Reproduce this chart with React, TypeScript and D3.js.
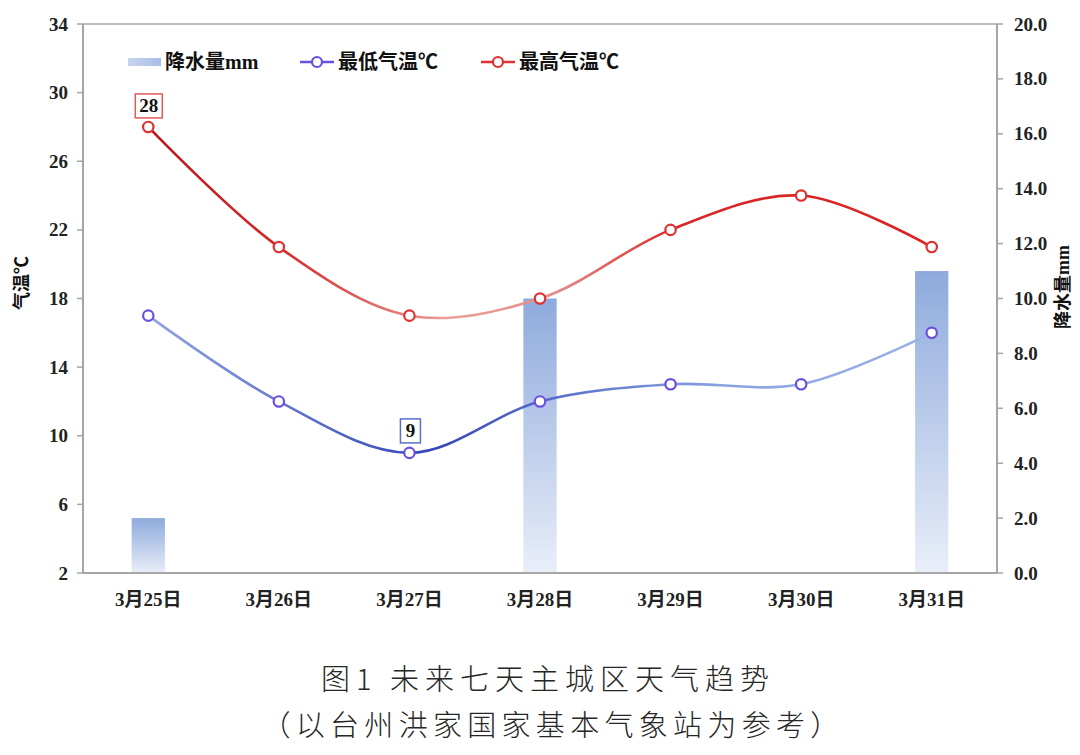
import React from "react";
import * as d3 from "d3";

const categories = ["3月25日", "3月26日", "3月27日", "3月28日", "3月29日", "3月30日", "3月31日"];
const rain = [2.0, 0, 0, 10.0, 0, 0, 11.0];
const minTemp = [17, 12, 9, 12, 13, 13, 16];
const maxTemp = [28, 21, 17, 18, 22, 24, 21];
const leftTicks = [2, 6, 10, 14, 18, 22, 26, 30, 34];
const rightTicks = [0, 2, 4, 6, 8, 10, 12, 14, 16, 18, 20];

const W = 1080, H = 755;
const L = 83, R = 997, T = 24, B = 573;
const serifBold = "'Liberation Serif', 'Noto Sans CJK SC', serif";
const axisGray = "#a6a6a6";

export default function App() {
  const x = d3.scaleBand<string>().domain(categories).range([L, R]).padding(0);
  const yL = d3.scaleLinear().domain([2, 34]).range([B, T]);
  const yR = d3.scaleLinear().domain([0, 20]).range([B, T]);
  const cx = (c: string) => (x(c) as number) + x.bandwidth() / 2;
  const bw = x.bandwidth() * 0.255;

  const line = d3
    .line<number>()
    .x((_, i) => cx(categories[i]))
    .y((d) => yL(d))
    .curve(d3.curveCatmullRom.alpha(0.5));

  const minIdx = minTemp.indexOf(d3.min(minTemp) as number);
  const maxIdx = maxTemp.indexOf(d3.max(maxTemp) as number);

  return (
    <svg width={W} height={H} style={{ position: "absolute", left: 0, top: 0, background: "#fff" }}>
      <defs>
        <linearGradient id="barGrad" x1="0" y1="0" x2="0" y2="1">
          <stop offset="0%" stopColor="#8eaadc" />
          <stop offset="100%" stopColor="#e9eef9" />
        </linearGradient>
        <linearGradient id="maxGrad" gradientUnits="userSpaceOnUse" x1={L} y1="0" x2={R} y2="0">
          <stop offset="0%" stopColor="#b00c0c" />
          <stop offset="22%" stopColor="#d42a2a" />
          <stop offset="40%" stopColor="#e9a09a" />
          <stop offset="52%" stopColor="#e58a86" />
          <stop offset="65%" stopColor="#d82626" />
          <stop offset="100%" stopColor="#dc2222" />
        </linearGradient>
        <linearGradient id="minGrad" gradientUnits="userSpaceOnUse" x1={L} y1="0" x2={R} y2="0">
          <stop offset="0%" stopColor="#a7bce6" />
          <stop offset="22%" stopColor="#6478d2" />
          <stop offset="38%" stopColor="#3346b8" />
          <stop offset="52%" stopColor="#5a70cc" />
          <stop offset="70%" stopColor="#8aa2df" />
          <stop offset="100%" stopColor="#a3b8e6" />
        </linearGradient>
        <linearGradient id="legBar" x1="0" y1="0" x2="1" y2="0">
          <stop offset="0%" stopColor="#c9d5ee" />
          <stop offset="100%" stopColor="#a9bde6" />
        </linearGradient>
      </defs>

      {/* bars */}
      {rain.map((v, i) =>
        v > 0 ? (
          <rect
            key={"b" + i}
            x={cx(categories[i]) - bw / 2}
            y={yR(v)}
            width={bw}
            height={B - yR(v)}
            fill="url(#barGrad)"
          />
        ) : null
      )}

      {/* frame */}
      <line x1={L} y1={T} x2={R} y2={T} stroke={axisGray} strokeWidth={1.5} />
      <line x1={L} y1={B} x2={R} y2={B} stroke={axisGray} strokeWidth={2} />
      <line x1={L} y1={T} x2={L} y2={B} stroke={axisGray} strokeWidth={2} />
      <line x1={R} y1={T} x2={R} y2={B} stroke={axisGray} strokeWidth={2} />

      {/* left ticks */}
      {leftTicks.map((t) => (
        <g key={"l" + t}>
          <line x1={L - 6} x2={L} y1={yL(t)} y2={yL(t)} stroke={axisGray} strokeWidth={1.5} />
          <text
            x={68}
            y={yL(t)}
            textAnchor="end"
            dominantBaseline="central"
            fontFamily={serifBold}
            fontWeight="bold"
            fontSize={19}
            fill="#222"
          >
            {t}
          </text>
        </g>
      ))}

      {/* right ticks */}
      {rightTicks.map((t) => (
        <g key={"r" + t}>
          <line x1={R} x2={R + 6} y1={yR(t)} y2={yR(t)} stroke={axisGray} strokeWidth={1.5} />
          <text
            x={1014}
            y={yR(t)}
            textAnchor="start"
            dominantBaseline="central"
            fontFamily={serifBold}
            fontWeight="bold"
            fontSize={19}
            fill="#222"
          >
            {t.toFixed(1)}
          </text>
        </g>
      ))}

      {/* x labels */}
      {categories.map((c) => (
        <text
          key={"x" + c}
          x={cx(c)}
          y={599}
          textAnchor="middle"
          dominantBaseline="central"
          fontFamily={serifBold}
          fontWeight="bold"
          fontSize={19}
          fill="#222"
        >
          {c}
        </text>
      ))}

      {/* axis titles */}
      <text
        transform={`translate(22,283) rotate(-90)`}
        textAnchor="middle"
        dominantBaseline="central"
        fontFamily={serifBold}
        fontWeight="bold"
        fontSize={18}
        fill="#111"
      >
        气温℃
      </text>
      <text
        transform={`translate(1063,287) rotate(-90)`}
        textAnchor="middle"
        dominantBaseline="central"
        fontFamily={serifBold}
        fontWeight="bold"
        fontSize={18}
        fill="#111"
      >
        降水量mm
      </text>

      {/* lines */}
      <path d={line(maxTemp) || ""} fill="none" stroke="url(#maxGrad)" strokeWidth={2.6} />
      <path d={line(minTemp) || ""} fill="none" stroke="url(#minGrad)" strokeWidth={2.6} />

      {maxTemp.map((v, i) => (
        <circle key={"mx" + i} cx={cx(categories[i])} cy={yL(v)} r={5.2} fill="#fff" stroke="#e03030" strokeWidth={2.2} />
      ))}
      {minTemp.map((v, i) => (
        <circle key={"mn" + i} cx={cx(categories[i])} cy={yL(v)} r={5.2} fill="#fff" stroke="#6a4fe0" strokeWidth={2.2} />
      ))}

      {/* data labels */}
      <g>
        <rect
          x={cx(categories[maxIdx]) - 13}
          y={yL(maxTemp[maxIdx]) - 33}
          width={27}
          height={24}
          fill="#fff"
          stroke="#e05a5a"
          strokeWidth={1.5}
        />
        <text
          x={cx(categories[maxIdx]) + 0.5}
          y={yL(maxTemp[maxIdx]) - 21}
          textAnchor="middle"
          dominantBaseline="central"
          fontFamily={serifBold}
          fontWeight="bold"
          fontSize={19}
          fill="#111"
        >
          {maxTemp[maxIdx]}
        </text>
      </g>
      <g>
        <rect
          x={cx(categories[minIdx]) - 9}
          y={yL(minTemp[minIdx]) - 34}
          width={20}
          height={24}
          fill="#fff"
          stroke="#5a70c8"
          strokeWidth={1.5}
        />
        <text
          x={cx(categories[minIdx]) + 1}
          y={yL(minTemp[minIdx]) - 22}
          textAnchor="middle"
          dominantBaseline="central"
          fontFamily={serifBold}
          fontWeight="bold"
          fontSize={19}
          fill="#111"
        >
          {minTemp[minIdx]}
        </text>
      </g>

      {/* legend */}
      <g fontFamily={serifBold} fontWeight="bold" fontSize={20} fill="#111">
        <rect x={128} y={58} width={33} height={8} fill="url(#legBar)" />
        <text x={165} y={62} dominantBaseline="central">降水量mm</text>

        <line x1={300} x2={334} y1={62} y2={62} stroke="#6a4fe0" strokeWidth={2.4} />
        <circle cx={317} cy={62} r={5} fill="#fff" stroke="#6a4fe0" strokeWidth={2.2} />
        <text x={338} y={62} dominantBaseline="central">最低气温℃</text>

        <line x1={481} x2={515} y1={62} y2={62} stroke="#e03030" strokeWidth={2.4} />
        <circle cx={498} cy={62} r={5} fill="#fff" stroke="#e03030" strokeWidth={2.2} />
        <text x={519} y={62} dominantBaseline="central">最高气温℃</text>
      </g>

      {/* caption */}
      <text
        x={548}
        y={677}
        textAnchor="middle"
        dominantBaseline="central"
        fontFamily="'Noto Sans CJK SC', sans-serif"
        fontWeight={300}
        fontSize={29}
        letterSpacing={6}
        fill="#262626"
      >
        图1 未来七天主城区天气趋势
      </text>
      <text
        x={553}
        y={723}
        textAnchor="middle"
        dominantBaseline="central"
        fontFamily="'Noto Sans CJK SC', sans-serif"
        fontWeight={300}
        fontSize={29}
        letterSpacing={5.3}
        fill="#262626"
      >
        （以台州洪家国家基本气象站为参考）
      </text>
    </svg>
  );
}
